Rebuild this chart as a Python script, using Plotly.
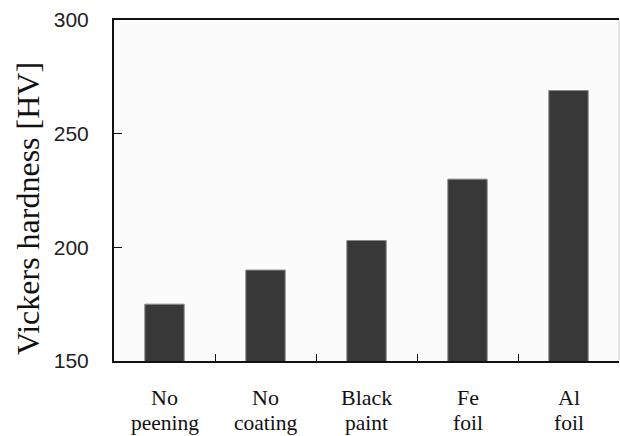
import plotly.graph_objects as go

categories = ["No peening", "No coating", "Black paint", "Fe foil", "Al foil"]
label_line1 = ["No", "No", "Black", "Fe", "Al"]
label_line2 = ["peening", "coating", "paint", "foil", "foil"]
hardness = [175, 190, 203, 230, 269]
y_ticks = [150, 200, 250, 300]

SERIF = "Liberation Serif"
SANS = "Liberation Sans"

PLOT_H = 341.0
PLOT_W = 505.0

fig = go.Figure()
fig.add_trace(go.Bar(
    x=categories, y=hardness, width=0.39,
    marker=dict(color="#383838", line=dict(color="#8a8a8a", width=1)),
))

annotations = []
for c, l1 in zip(categories, label_line1):
    annotations.append(dict(x=c, xref="x", y=-37 / PLOT_H, yref="paper", yanchor="middle",
                            text=l1, showarrow=False,
                            font=dict(family=SERIF, size=22, color="#111")))
for c, l2 in zip(categories, label_line2):
    annotations.append(dict(x=c, xref="x", y=-61.5 / PLOT_H, yref="paper", yanchor="middle",
                            text=l2, showarrow=False,
                            font=dict(family=SERIF, size=21.5, color="#111")))
annotations.append(dict(x=(28 - 114) / PLOT_W, xref="paper", y=(361 - 209) / PLOT_H, yref="paper",
                        text="Vickers hardness [HV]", textangle=-90, showarrow=False,
                        xanchor="center", yanchor="middle",
                        font=dict(family=SERIF, size=32, color="#111")))

fig.update_layout(
    width=620, height=436,
    margin=dict(l=114, r=1, t=20, b=75),
    paper_bgcolor="white", plot_bgcolor="#fbfbfb",
    showlegend=False,
    font=dict(family=SERIF, size=18, color="#111"),
    xaxis=dict(type="category", tickson="boundaries", ticks="inside", ticklen=7,
               tickcolor="#111", showticklabels=False, showline=True, linecolor="#111",
               linewidth=2, mirror=True, showgrid=False, zeroline=False),
    yaxis=dict(range=[150, 300], tickvals=y_ticks, ticks="inside", ticklen=8,
               tickcolor="#111", showline=True, linecolor="#111", linewidth=2,
               showgrid=False, zeroline=False, ticklabelstandoff=19,
               tickfont=dict(family=SANS, size=21, color="#222")),
    shapes=[dict(type="line", xref="paper", yref="paper", x0=1, x1=1, y0=0, y1=1,
                 line=dict(color="#cfcfcf", width=1))],
    annotations=annotations,
)

fig.write_html("out.html", config={"displayModeBar": False},
               post_script="document.body.style.margin='0';")
